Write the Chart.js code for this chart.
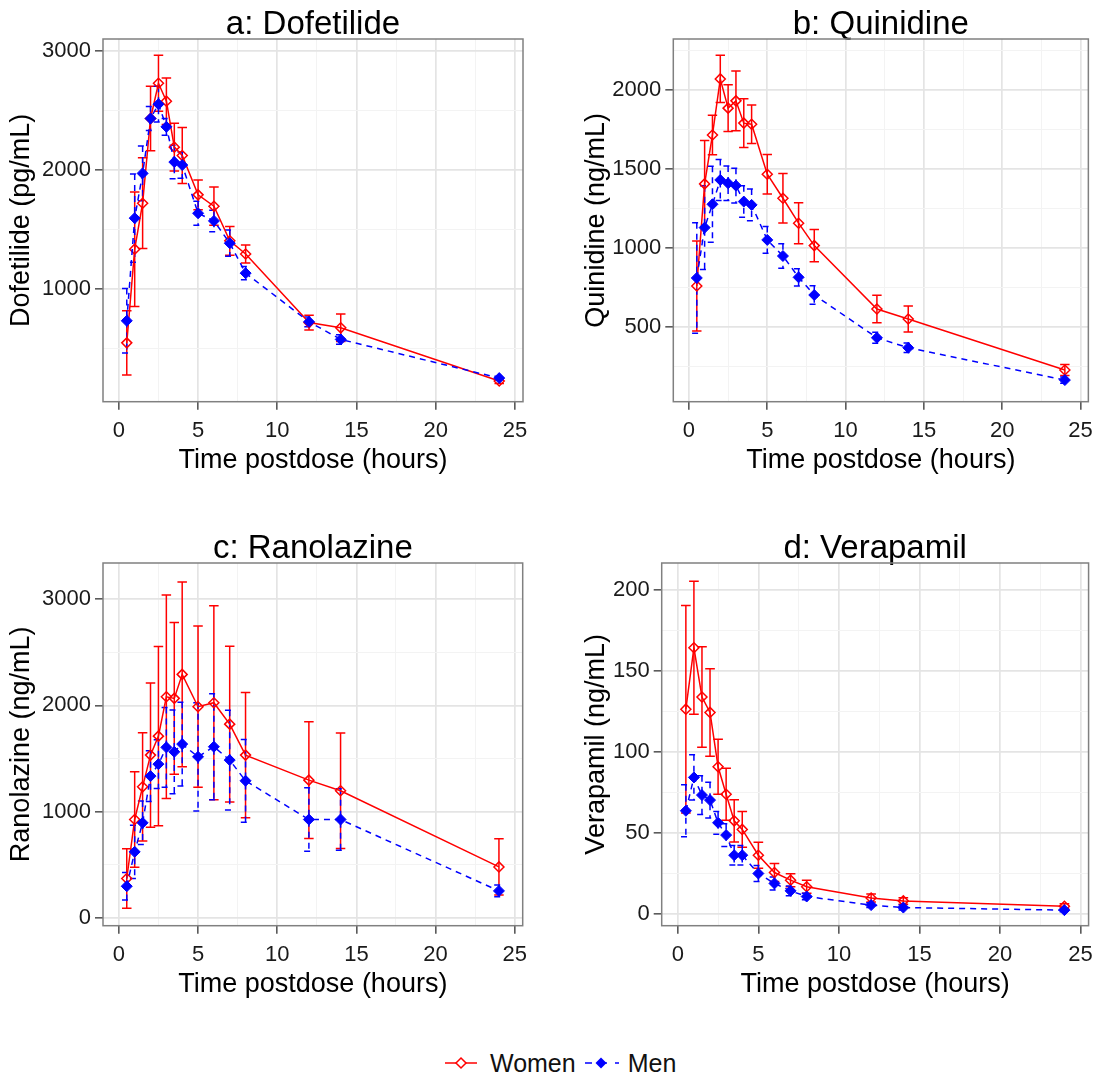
<!DOCTYPE html>
<html>
<head>
<meta charset="utf-8">
<script src="https://cdn.jsdelivr.net/npm/chart.js@4.4.1/dist/chart.umd.min.js"></script>
<style>
  html, body { margin: 0; padding: 0; background: #fff; }
  body { width: 1101px; height: 1082px; position: relative; overflow: hidden; font-family: 'Liberation Sans', Arial, sans-serif; }
  canvas { position: absolute; }
  #legend { position: absolute; left: 444px; top: 1048px; height: 30px; display: flex; align-items: center; font-size: 25px; color: #111; white-space: nowrap; }
  #legend svg { display: block; }
</style>
</head>
<body>
<canvas id="chartA" width="550" height="490" style="left:0;top:0"></canvas>
<canvas id="chartB" width="541" height="490" style="left:560px;top:0"></canvas>
<canvas id="chartC" width="550" height="490" style="left:0;top:524px"></canvas>
<canvas id="chartD" width="541" height="490" style="left:560px;top:524px"></canvas>

<div id="legend">
  <svg width="34" height="20"><line x1="1" y1="10" x2="33" y2="10" stroke="#ff0000" stroke-width="1.5"/><path d="M17 5 L22 10 L17 15 L12 10 Z" fill="#fff" stroke="#ff0000" stroke-width="1.5"/></svg>
  <span style="margin-left:12px">Women</span>
  <svg width="36" height="20" style="margin-left:8px"><line x1="1" y1="10" x2="35" y2="10" stroke="#0000ff" stroke-width="1.5" stroke-dasharray="7 8"/><path d="M17 4.5 L22.5 10 L17 15.5 L11.5 10 Z" fill="#0000ff"/></svg>
  <span style="margin-left:8px">Men</span>
</div>

<script>
// ---- data (hours postdose) ----
const times = [0.5, 1, 1.5, 2, 2.5, 3, 3.5, 4, 5, 6, 7, 8, 12, 14, 24];

// a: Dofetilide (pg/mL)
const womenA    = [550, 1335, 1720, 2430, 2725, 2575, 2190, 2120, 1790, 1695, 1405, 1295, 720, 676, 230];
const womenAErr = [270, 480, 380, 270, 235, 195, 200, 235, 125, 160, 120, 75, 62, 115, 20];
const menA      = [735, 1595, 1970, 2430, 2550, 2360, 2065, 2040, 1636, 1572, 1385, 1134, 726, 579, 255];
const menAErr   = [270, 370, 230, 100, 150, 70, 140, 110, 100, 90, 110, 56, 40, 40, 15];

// b: Quinidine (ng/mL)
const womenB    = [758, 1405, 1715, 2070, 1885, 1931, 1790, 1783, 1466, 1314, 1156, 1014, 612, 549, 226];
const womenBErr = [285, 275, 125, 150, 148, 190, 155, 122, 125, 157, 130, 102, 87, 82, 35];
const menB      = [809, 1128, 1276, 1430, 1409, 1394, 1293, 1272, 1050, 948, 813, 701, 430, 367, 162];
const menBErr   = [350, 265, 240, 130, 110, 110, 100, 100, 85, 78, 55, 58, 35, 30, 20];

// c: Ranolazine (ng/mL)
const womenC    = [368, 924, 1232, 1531, 1710, 2081, 2066, 2292, 1987, 2025, 1823, 1531, 1295, 1195, 477];
const womenCErr = [280, 450, 510, 680, 845, 960, 715, 870, 760, 915, 735, 590, 550, 545, 265];
const menC      = [295, 619, 893, 1333, 1446, 1604, 1562, 1635, 1515, 1610, 1484, 1289, 924, 924, 251];
const menCErr   = [130, 250, 205, 240, 230, 375, 395, 395, 510, 500, 470, 390, 300, 290, 55];

// d: Verapamil (ng/mL)
const womenD    = [126.5, 164.4, 134, 124.5, 91, 74, 57.6, 52.3, 36.4, 25.7, 21, 16.9, 10, 8.2, 4.9];
const womenDErr = [64, 41, 31, 27, 17, 16, 13, 11, 8, 5.6, 4, 4, 2.5, 2, 1.5];
const menD      = [63.8, 84.4, 73.5, 70.4, 56.4, 48.8, 36.4, 36.4, 25.1, 19, 14.4, 10.9, 5.6, 4.1, 2.5];
const menDErr   = [16, 14, 12, 11, 7, 7, 6, 6, 5, 4, 3, 2, 1.5, 1.5, 1];

// ---- axes ----
const xMajor = [0, 5, 10, 15, 20, 25];
const xMinor = [2.5, 7.5, 12.5, 17.5, 22.5];
const yMajorA = [1000, 2000, 3000];
const yMinorA = [500, 1500, 2500];
const yMajorB = [500, 1000, 1500, 2000];
const yMinorB = [250, 750, 1250, 1750, 2250];
const yMajorC = [0, 1000, 2000, 3000];
const yMinorC = [500, 1500, 2500];
const yMajorD = [0, 50, 100, 150, 200];
const yMinorD = [25, 75, 125, 175];

const RED = '#ff0000';
const BLUE = '#0000ff';

Chart.defaults.font.family = "'Liberation Sans', Arial, sans-serif";
Chart.defaults.color = '#1a1a1a';

const toPoints = vals => times.map((t, i) => ({ x: t, y: vals[i] }));

// error bars drawn from each dataset's own errors array, through the scales
const errorBars = {
    id: 'errorBars',
    beforeDatasetsDraw(chart) {
        const { ctx, scales: { x, y } } = chart;
        chart.data.datasets.forEach(ds => {
            ctx.save();
            ctx.strokeStyle = ds.borderColor;
            ctx.lineWidth = 1.5;
            ctx.setLineDash(ds.borderDash || []);
            ds.data.forEach((p, i) => {
                const e = ds.errors[i];
                const px = x.getPixelForValue(p.x);
                const hw = x.getPixelForValue(p.x + 0.3) - px;
                const top = y.getPixelForValue(p.y + e);
                const bot = y.getPixelForValue(p.y - e);
                ctx.beginPath();
                ctx.moveTo(px, top); ctx.lineTo(px, bot);
                ctx.moveTo(px - hw, top); ctx.lineTo(px + hw, top);
                ctx.moveTo(px - hw, bot); ctx.lineTo(px + hw, bot);
                ctx.stroke();
            });
            ctx.restore();
        });
    }
};

const panelBorder = {
    id: 'panelBorder',
    afterDraw(chart) {
        const { ctx, chartArea: a } = chart;
        ctx.save();
        ctx.strokeStyle = '#808080';
        ctx.lineWidth = 1.5;
        ctx.strokeRect(a.left, a.top, a.right - a.left, a.bottom - a.top);
        ctx.restore();
    }
};

function makePanel(id, p) {
    const yAll = p.yMajor.concat(p.yMinor).sort((a, b) => a - b);
    const xAll = xMajor.concat(xMinor).sort((a, b) => a - b);
    const gridOpts = majors => ({
        color: c => majors.includes(c.tick.value) ? '#e4e4e4' : '#f3f3f3',
        lineWidth: c => majors.includes(c.tick.value) ? 1.7 : 1,
        tickColor: c => majors.includes(c.tick.value) ? '#333' : 'rgba(0,0,0,0)',
        tickLength: 8,
        tickWidth: 1.3
    });

    new Chart(document.getElementById(id), {
        type: 'line',
        data: {
            datasets: [
                { label: 'Women', data: toPoints(p.women), errors: p.womenErr, borderColor: RED, borderWidth: 1.5,
                  pointStyle: 'rectRot', pointRadius: 5, pointBorderWidth: 1.5,
                  pointBackgroundColor: 'rgba(255,255,255,0)', pointBorderColor: RED, tension: 0, order: 1 },
                { label: 'Men', data: toPoints(p.men), errors: p.menErr, borderColor: BLUE, borderWidth: 1.5, borderDash: [6, 5],
                  pointStyle: 'rectRot', pointRadius: 5.5, pointBorderWidth: 1,
                  pointBackgroundColor: BLUE, pointBorderColor: BLUE, tension: 0, order: 0 }
            ]
        },
        options: {
            responsive: false, animation: false, devicePixelRatio: 1,
            layout: { padding: { left: 0, right: p.padRight, top: 0, bottom: 0 } },
            plugins: {
                legend: { display: false },
                tooltip: { enabled: false },
                title: { display: true, text: p.title, fullSize: false, color: '#000',
                         font: { size: 33, weight: 'normal', lineHeight: 0.85 }, padding: { top: 10.8, bottom: 0.15 } }
            },
            scales: {
                x: {
                    type: 'linear', min: -1, max: 25.5,
                    afterBuildTicks: s => { s.ticks = xAll.map(v => ({ value: v })); },
                    afterFit: s => { s.height = 88.3; },
                    grid: gridOpts(xMajor),
                    border: { display: false },
                    ticks: { autoSkip: false, maxRotation: 0, padding: 8, color: '#1a1a1a',
                             font: { size: 22, lineHeight: 1.2 },
                             callback: v => xMajor.includes(v) ? String(v) : '' },
                    title: { display: true, text: 'Time postdose (hours)', color: '#000',
                             font: { size: 27, lineHeight: 1.2 }, padding: { top: 0, bottom: 12.8 } }
                },
                y: {
                    type: 'linear', min: p.yMin, max: p.yMax,
                    afterBuildTicks: s => { s.ticks = yAll.map(v => ({ value: v })); },
                    afterFit: s => { s.width = p.yWidth; },
                    grid: gridOpts(p.yMajor),
                    border: { display: false },
                    ticks: { autoSkip: false, padding: 4, color: '#1a1a1a',
                             font: { size: 22, lineHeight: 1.2 },
                             callback: v => p.yMajor.includes(v) ? String(v) : '' },
                    title: { display: true, text: p.yTitle, color: '#000',
                             font: { size: 27, lineHeight: 1.2 }, padding: { top: p.yTitlePad, bottom: 0 } }
                }
            }
        },
        plugins: [errorBars, panelBorder]
    });
}

makePanel('chartA', { title: 'a: Dofetilide', yTitle: 'Dofetilide (pg/mL)',
    women: womenA, womenErr: womenAErr, men: menA, menErr: menAErr,
    yMin: 57, yMax: 3096, yMajor: yMajorA, yMinor: yMinorA, yWidth: 103, padRight: 27, yTitlePad: 5.8 });
makePanel('chartB', { title: 'b: Quinidine', yTitle: 'Quinidine (ng/mL)',
    women: womenB, womenErr: womenBErr, men: menB, menErr: menBErr,
    yMin: 25, yMax: 2323, yMajor: yMajorB, yMinor: yMinorB, yWidth: 113.3, padRight: 7.7, yTitlePad: 20.8 });
makePanel('chartC', { title: 'c: Ranolazine', yTitle: 'Ranolazine (ng/mL)',
    women: womenC, womenErr: womenCErr, men: menC, menErr: menCErr,
    yMin: -77, yMax: 3342, yMajor: yMajorC, yMinor: yMinorC, yWidth: 103, padRight: 27.3, yTitlePad: 5.8 });
makePanel('chartD', { title: 'd: Verapamil', yTitle: 'Verapamil (ng/mL)',
    women: womenD, womenErr: womenDErr, men: menD, menErr: menDErr,
    yMin: -7.1, yMax: 216.7, yMajor: yMajorD, yMinor: yMinorD, yWidth: 101.7, padRight: 7.7, yTitlePad: 20.8 });
</script>
</body>
</html>
